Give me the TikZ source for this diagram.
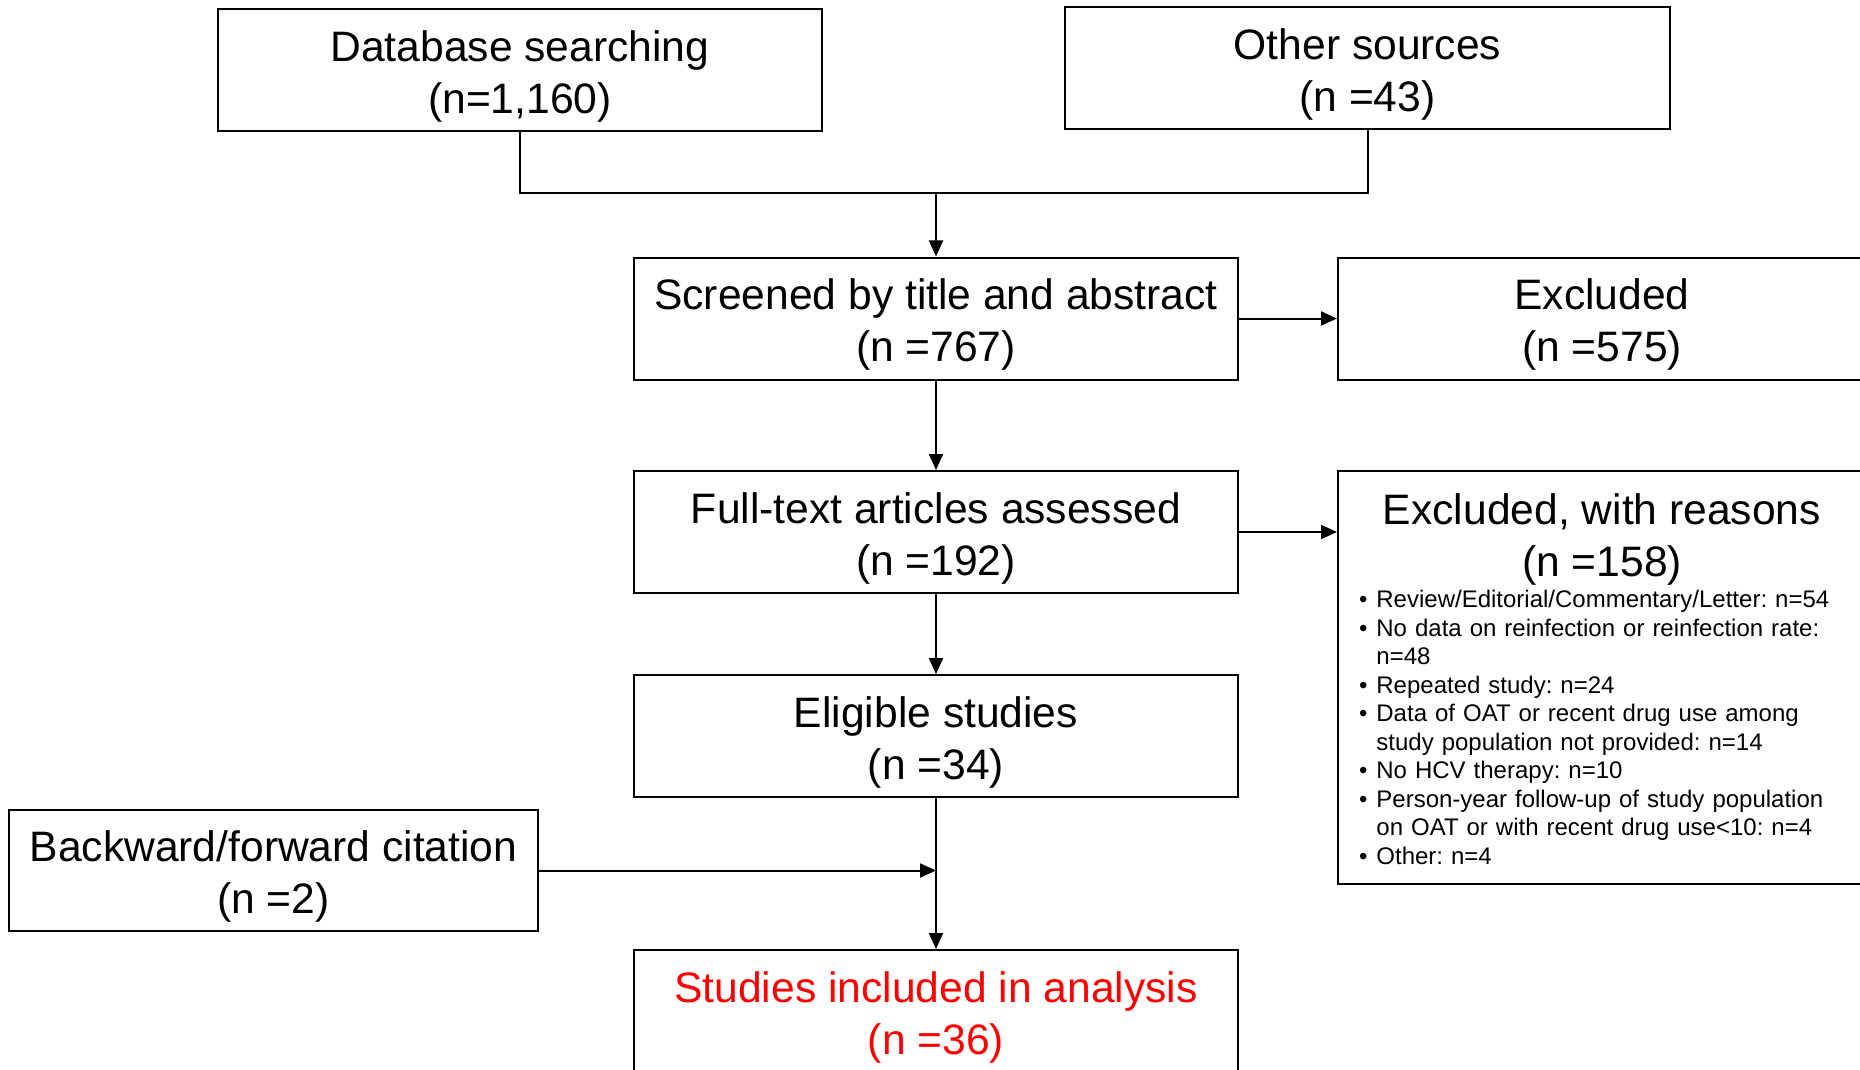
\documentclass[tikz,border=0pt]{standalone}
\usepackage{fontspec}
\setmainfont{Liberation Sans}
\usetikzlibrary{positioning, arrows.meta}

\tikzset{
  box/.style={draw, rectangle, line width=1pt, minimum width=302pt, minimum height=61pt,
    inner sep=0pt, align=center, font=\fontsize{21.3}{26}\selectfont},
  arr/.style={-{Triangle[length=8pt,width=7pt]}, line width=1pt},
  link/.style={line width=1pt}
}
\newcommand{\topgap}{\rule{0pt}{21.5pt}}

\newenvironment{reasonlist}{\begin{list}{\textbullet}{%
  \setlength{\leftmargin}{19pt}\setlength{\labelsep}{4.4pt}\setlength{\labelwidth}{14.6pt}%
  \setlength{\itemsep}{0pt}\setlength{\parsep}{0pt}\setlength{\topsep}{0pt}\setlength{\partopsep}{0pt}}}%
  {\end{list}}

\begin{document}
\begin{tikzpicture}[x=0.5pt,y=-0.5pt,on grid]
    \clip (0,0) rectangle (1860,1070);
    \node[box] (db) at (520,70) {\topgap Database searching\\(n=1,160)};
    \node[box, minimum width=302.5pt] (other) at (1367.5,68.5) {\topgap Other sources\\(n =43)};
    \coordinate (join) at (936,193);
    \node[box] (screen) at (936,318.5) {\topgap Screened by title and abstract\\(n =767)};
    \node[box, minimum width=264pt] (excl) [right=333pt of screen] {\topgap Excluded\\(n =575)};
    \node[box] (full) [below=106.75pt of screen] {\topgap Full-text articles assessed\\(n =192)};
    \node[box] (elig) [below=102pt of full] {\topgap Eligible studies\\(n =34)};
    \node[box, text=red] (incl) [below=137.5pt of elig] {\topgap Studies included in analysis\\(n =36)};
    \node[box, minimum width=264.5pt, minimum height=60.5pt] (back) at (273.5,870.5) {\topgap Backward/forward citation\\(n =2)};
    \node[draw, line width=1pt, minimum width=264pt, minimum height=206.5pt] (reasons) at (1602,677.5) {};
    \node[align=center, inner sep=0pt, font=\fontsize{21.3}{26}\selectfont] (reasonstitle) at (1602,539)
        {Excluded, with reasons\\(n =158)};
    \node[anchor=north west, inner sep=0pt, text width=250pt, font=\fontsize{12}{14.25}\selectfont]
        (reasonslist) at (1338,579) {\raggedright\frenchspacing
        \begin{reasonlist}
          \item Review/Editorial/Commentary/Letter: n=54
          \item No data on reinfection or reinfection rate:\newline n=48
          \item Repeated study: n=24
          \item Data of OAT or recent drug use among\newline study population not provided: n=14
          \item No HCV therapy: n=10
          \item Person-year follow-up of study population\newline on OAT or with recent drug use<10: n=4
          \item Other: n=4
        \end{reasonlist}};
    \draw[link] (db.south) |- (join) -| (other.south);
    \path[arr]
        (join) edge (screen)
        (screen) edge (excl)
                 edge (full)
        (full) edge (elig)
        (full.east) edge (full.east -| reasons.west)
        (elig) edge (incl)
        (back.east) edge (back.east -| elig.south);
\end{tikzpicture}
\end{document}
